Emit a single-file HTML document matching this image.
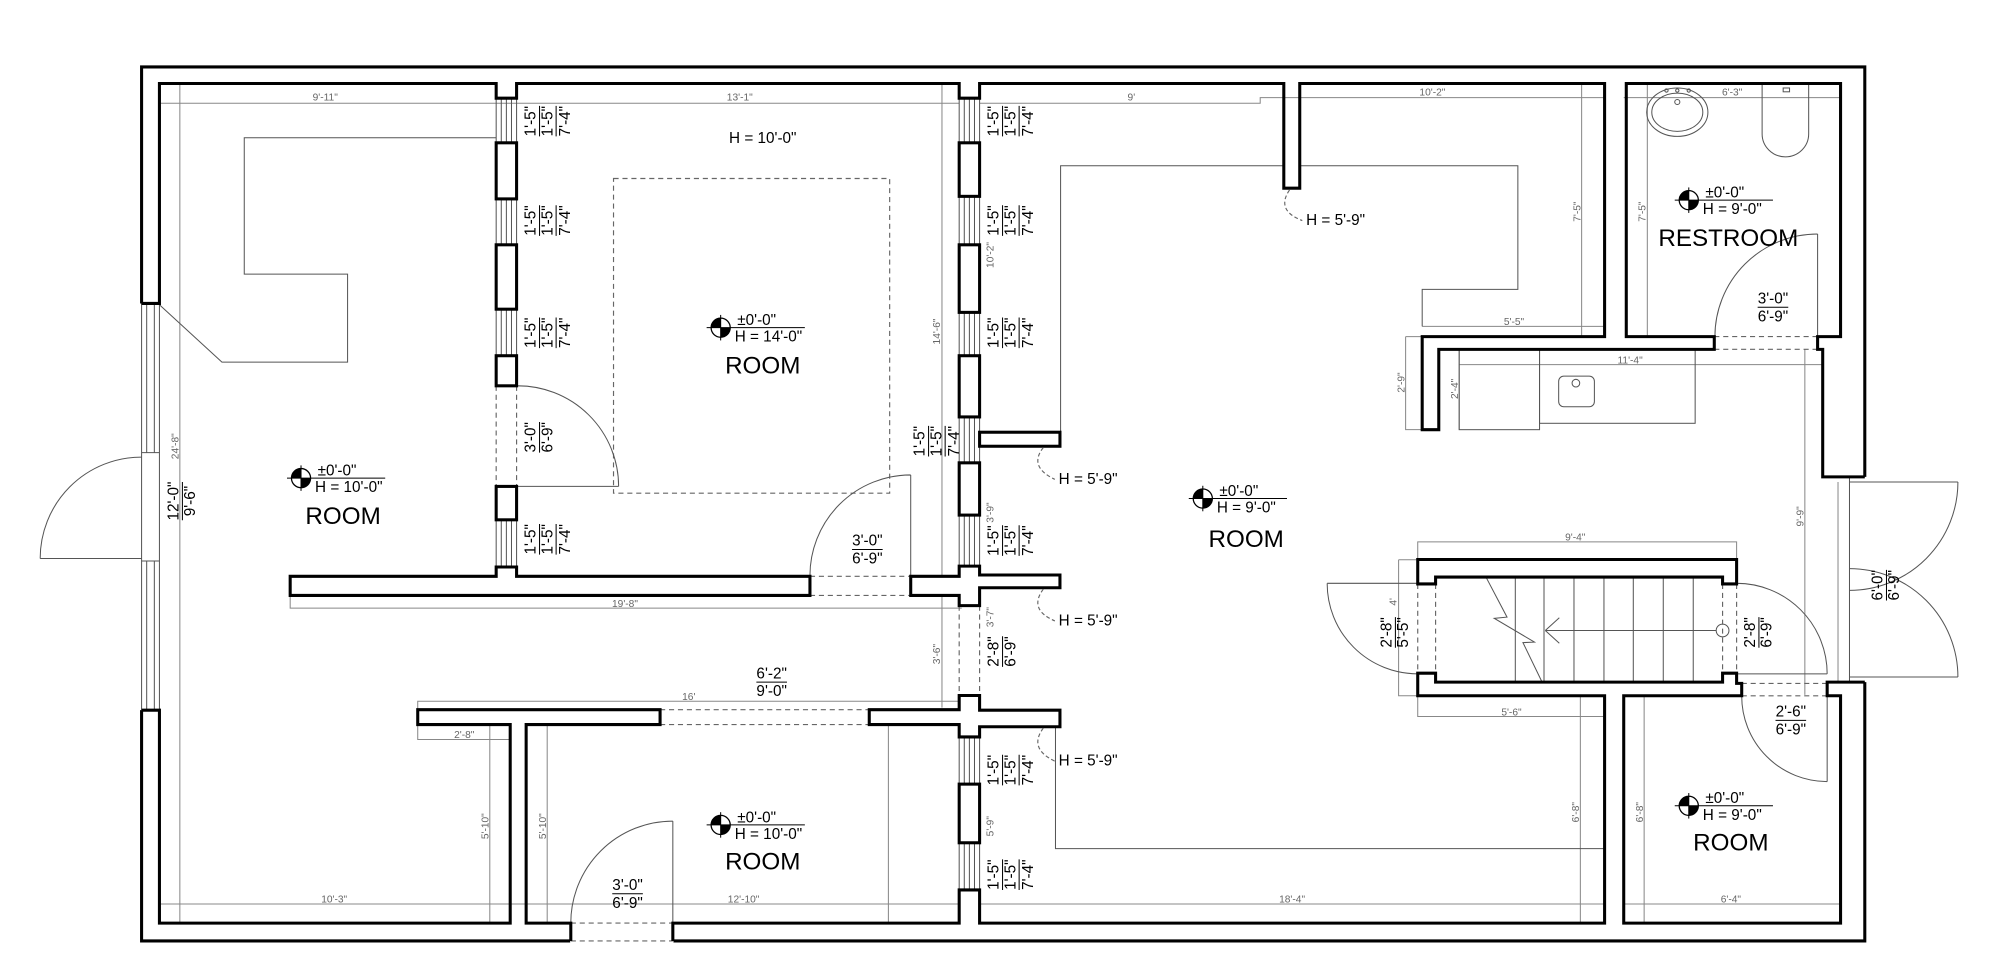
<!DOCTYPE html>
<html><head><meta charset="utf-8"><style>
html,body{margin:0;padding:0;background:#fff;}
svg{display:block;}
text{font-family:"Liberation Sans",Arial,sans-serif;}
.w{fill:none;stroke:#000;stroke-width:2.4;stroke-linejoin:miter;}
.wr{fill:#fff;stroke:#000;stroke-width:2.4;}
.t{fill:none;stroke:#555;stroke-width:0.8;}
.d{fill:none;stroke:#888;stroke-width:0.8;}
.ds{fill:none;stroke:#666;stroke-width:0.9;stroke-dasharray:4 3;}
.g{fill:#666;font-size:8px;}
.l{fill:#000;font-size:12px;}
.r{fill:#000;font-size:19px;}
</style></head><body>
<svg width="2000" height="969" viewBox="0 0 1568 760" preserveAspectRatio="none" xmlns="http://www.w3.org/2000/svg">
<defs>
<g id="mk">
<circle cx="0" cy="0" r="7.5" fill="#fff" stroke="#000" stroke-width="1"/>
<path d="M0,0 L0,-7.5 A7.5,7.5 0 0 0 -7.5,0 Z" fill="#000"/>
<path d="M0,0 L0,7.5 A7.5,7.5 0 0 0 7.5,0 Z" fill="#000"/>
<line x1="-11" y1="0" x2="66" y2="0" stroke="#000" stroke-width="0.8"/>
<line x1="0" y1="-10" x2="0" y2="10" stroke="#000" stroke-width="0.8"/>
</g>
</defs>
<rect width="1568" height="760" fill="#fff"/>

<!-- dimension lines -->
<g class="d">
<path d="M125,81 H752 M768,81 H988 V76.6 H1258 M1273,76.6 H1443"/>
<path d="M141,66 V724"/>
<path d="M738.5,66 V555"/>
<path d="M227.5,467 V477 H754"/>
<path d="M327.5,556 V550 H752"/>
<path d="M327.5,568 V580 H400"/>
<path d="M384,568 V724 M429,568 V724 M696.5,568 V724"/>
<path d="M125,709 H752 M768,709 H1258 M1273,709 H1443"/>
<path d="M1239,545 V724 M1289,545 V724"/>
<path d="M1111.5,545 V562 H1258"/>
<path d="M1111.5,439 V425 H1361.5 V439"/>
<path d="M1096.5,439 H1111 M1096.5,439 V545.7 H1111"/>
<path d="M1415,274 V545"/>
<path d="M1144,286 H1429 M1144,274 V337 M1102,264 H1115 M1102,264 V337 H1115"/>
<path d="M1240,66 V264 M1291.5,66 V264 M1115,256 H1258"/>
<path d="M1441,378 V535"/>
</g>

<!-- furniture / thin lines -->
<g class="t">
<polyline points="389,108 191.5,108 191.5,215 272.5,215 272.5,284 174,284 125,239"/>
<polyline points="1006.5,130 831.5,130 831.5,339"/>
<polyline points="1019,130 1190,130 1190,227 1115,227 1115,256"/>
<polyline points="827.5,570 827.5,665.6 1258,665.6"/>
<rect x="1207" y="274" width="122" height="58"/>
<rect x="1144" y="274" width="63" height="63"/>
<rect x="1222" y="295" width="28" height="24" rx="4"/>
<circle cx="1235.5" cy="300.5" r="3"/>
<ellipse cx="1315" cy="88" rx="24" ry="19"/>
<ellipse cx="1315" cy="88" rx="20" ry="15"/>
<circle cx="1315" cy="80" r="2"/>
<circle cx="1306.5" cy="71" r="1.3"/><circle cx="1315" cy="71" r="1.3"/><circle cx="1324" cy="71" r="1.3"/>
<path d="M1381.5,66 V105 A18.25,18 0 0 0 1418,105 V66"/>
<rect x="1398" y="69" width="5" height="3"/>
</g>
<rect x="481" y="140" width="216.5" height="246.8" class="ds"/>

<!-- stair -->
<g class="t">
<path d="M1188,452.6 V535 M1210.5,452.6 V535 M1234,452.6 V535 M1257.5,452.6 V535 M1280.5,452.6 V535 M1304,452.6 V535 M1327.5,452.6 V535"/>
<polyline points="1165,452.6 1181.5,484 1171.5,485 1203,503.6 1194,504 1209,535"/>
<path d="M1345.5,494.5 H1211.5 M1211.5,494.5 L1222.5,484.5 M1211.5,494.5 L1222.5,504.5"/>
<circle cx="1350.5" cy="494.5" r="5"/>
</g>

<!-- doors: leaves & arcs -->
<g class="t">
<path d="M31.5,438 H111 M31.5,438 A79.5,79.5 0 0 1 111,358.5"/>
<path d="M485,381.5 H405 M485,381.5 A79,79 0 0 0 405,302.6"/>
<path d="M714,452 V372.5 M714,372.5 A79,79 0 0 0 635,452"/>
<path d="M527.5,724 V644 M527.5,644 A80,80 0 0 0 447.5,724"/>
<path d="M1425,264 V183.5 M1425,183.5 A80.5,80.5 0 0 0 1344.5,264"/>
<path d="M1040.5,457.5 H1111.5 M1040.5,457.5 A71,71 0 0 0 1111.5,528.5"/>
<path d="M1361.5,528.5 H1432.5 M1361.5,457.5 A71,71 0 0 1 1432.5,528.5"/>
<path d="M1432.5,545.7 V613 M1365.5,545.7 A67,67 0 0 0 1432.5,613"/>
<path d="M1450,378 H1535 M1535,378 A85,85 0 0 1 1450,463"/>
<path d="M1450,531 H1535 M1535,531 A85,85 0 0 0 1450,446"/>
<path d="M1450,374 V535"/>
</g>

<!-- dashed openings -->
<g class="ds">
<path d="M389,302.6 V381.5 M405,302.6 V381.5"/>
<path d="M635,452 H714 M635,467 H714"/>
<path d="M752,475 V545.5 M768,475 V545.5"/>
<path d="M517.5,556.6 H681.5 M517.5,568.3 H681.5"/>
<path d="M447.5,724 H527.5 M447.5,738 H527.5"/>
<path d="M1111.5,458 V528 M1125.5,458 V528 M1350.5,458 V528 M1361.5,458 V528"/>
<path d="M1344,264 H1425 M1344,274 H1425"/>
<path d="M1365.5,536 H1432.5 M1365.5,545.7 H1432.5"/>
</g>

<!-- left wall windows -->
<g class="t">
<path d="M115,238 V355 M121,238 V355 M115,440 V557 M121,440 V557 M111,355 H125 M111,440 H125 M111,238 V557 M125,238 V557"/>
</g>

<!-- partition windows -->
<g class="t">
<path d="M389,77 V112 M393,77 V112 M397,77 V112 M401,77 V112 M405,77 V112"/>
<path d="M389,156 V192 M393,156 V192 M397,156 V192 M401,156 V192 M405,156 V192"/>
<path d="M389,242.5 V279 M393,242.5 V279 M397,242.5 V279 M401,242.5 V279 M405,242.5 V279"/>
<path d="M389,407.7 V444.7 M393,407.7 V444.7 M397,407.7 V444.7 M401,407.7 V444.7 M405,407.7 V444.7"/>
<path d="M752,77 V112 M756,77 V112 M760,77 V112 M764,77 V112 M768,77 V112"/>
<path d="M752,154 V192 M756,154 V192 M760,154 V192 M764,154 V192 M768,154 V192"/>
<path d="M752,245 V279 M756,245 V279 M760,245 V279 M764,245 V279 M768,245 V279"/>
<path d="M752,327 V363 M756,327 V363 M760,327 V363 M764,327 V363 M768,327 V363"/>
<path d="M752,404 V444 M756,404 V444 M760,404 V444 M764,404 V444 M768,404 V444"/>
<path d="M752,578 V615 M756,578 V615 M760,578 V615 M764,578 V615 M768,578 V615"/>
<path d="M752,661 V698 M756,661 V698 M760,661 V698 M764,661 V698 M768,661 V698"/>
</g>

<!-- walls -->
<path class="w" d="M111,238 V52.5 H1462 V374 M1462,535 V738 H528 M447,738 H111 V557"/>
<path class="w" d="M111,238 H125 V65.5 H389 V77 H405 V65.5 H752 V77 H768 V65.5 H1006.5 V147.6 H1019 V65.5 H1258 V264 H1115 V337 H1128 V274 H1344 V264 H1275 V65.5 H1443 V264 H1425 V274 H1429 V374 H1462"/>
<path class="w" d="M111,557 H125 V724 H400 V568.3 H327.5 V556.6 H517.5 V568.3 H412.5 V724 H447.5 V738"/>
<path class="w" d="M527.5,738 V724 H752 V698 H768 V724 H1258 V545.7 H1111.5 V528 H1125.5 V535 H1350.5 V528 H1361.5 V536 H1365.5 V545.7 H1273 V724 H1443 V545.7 H1432.5 V535 H1462"/>
<path class="w" d="M1111.5,458 V438.8 H1361.5 V458 H1350.5 V452.6 H1125.5 V458 Z"/>
<path class="w" d="M227.5,452 H389 V444.7 H405 V452 H635 V467 H227.5 Z"/>
<g class="wr">
<rect x="389" y="112" width="16" height="44"/>
<rect x="389" y="192" width="16" height="50.5"/>
<rect x="389" y="279" width="16" height="23.6"/>
<rect x="389" y="381.5" width="16" height="26.2"/>
<rect x="752" y="112" width="16" height="42"/>
<rect x="752" y="192" width="16" height="53"/>
<rect x="752" y="279" width="16" height="48"/>
<rect x="752" y="363" width="16" height="41"/>
<rect x="752" y="615" width="16" height="46"/>
<rect x="768" y="339" width="63" height="11"/>
<polygon points="752,444 768,444 768,451 831,451 831,461 768,461 768,475 752,475 752,467 714,467 714,452 752,452"/>
<polygon points="752,545.5 768,545.5 768,557 831,557 831,570 768,570 768,578 752,578 752,568.3 681.5,568.3 681.5,556.6 752,556.6"/>
</g>

<!-- leaders -->
<g class="ds" style="stroke-dasharray:3 2">
<path d="M1011,149 Q1000,165 1021,173"/>
<path d="M818,351 Q806,366 827,376"/>
<path d="M818,462 Q806,478 827,487"/>
<path d="M818,571 Q806,587 827,597"/>
</g>

<!-- markers -->
<use href="#mk" x="236" y="375"/>
<use href="#mk" x="565" y="257"/>
<use href="#mk" x="565" y="647"/>
<use href="#mk" x="943" y="391"/>
<use href="#mk" x="1324" y="157"/>
<use href="#mk" x="1324" y="632"/>
<g class="l">
<text x="249" y="373">±0'-0"</text><text x="247" y="386">H = 10'-0"</text>
<text x="578" y="255">±0'-0"</text><text x="576" y="268">H = 14'-0"</text>
<text x="578" y="645">±0'-0"</text><text x="576" y="658">H = 10'-0"</text>
<text x="956" y="389">±0'-0"</text><text x="954" y="402">H = 9'-0"</text>
<text x="1337" y="155">±0'-0"</text><text x="1335" y="168">H = 9'-0"</text>
<text x="1337" y="630">±0'-0"</text><text x="1335" y="643">H = 9'-0"</text>
<text x="598" y="112" text-anchor="middle">H = 10'-0"</text>
<text x="1024" y="176.5">H = 5'-9"</text>
<text x="830" y="379.5">H = 5'-9"</text>
<text x="830" y="490.5">H = 5'-9"</text>
<text x="830" y="600.5">H = 5'-9"</text>
</g>
<g class="r" text-anchor="middle">
<text x="269" y="411">ROOM</text>
<text x="598" y="293">ROOM</text>
<text x="598" y="682">ROOM</text>
<text x="977" y="429">ROOM</text>
<text x="1355" y="193">RESTROOM</text>
<text x="1357" y="667">ROOM</text>
</g>

<!-- horizontal fraction labels -->
<g class="l" text-anchor="middle">
<text x="680" y="428">3'-0"</text><text x="680" y="442">6'-9"</text>
<text x="1390" y="238">3'-0"</text><text x="1390" y="252">6'-9"</text>
<text x="605" y="532">6'-2"</text><text x="605" y="546">9'-0"</text>
<text x="492" y="698">3'-0"</text><text x="492" y="712">6'-9"</text>
<text x="1404" y="562">2'-6"</text><text x="1404" y="576">6'-9"</text>
</g>
<g stroke="#000" stroke-width="0.8">
<line x1="668" y1="431" x2="692" y2="431"/>
<line x1="1378" y1="241" x2="1402" y2="241"/>
<line x1="593" y1="535" x2="617" y2="535"/>
<line x1="480" y1="701" x2="504" y2="701"/>
<line x1="1392" y1="565" x2="1416" y2="565"/>
</g>

<!-- rotated window labels (3 lines) -->
<g class="l" text-anchor="middle">
<g transform="translate(420,95) rotate(-90)"><text>1'-5"</text><text y="13">1'-5"</text><text y="27">7'-4"</text></g>
<g transform="translate(420,173) rotate(-90)"><text>1'-5"</text><text y="13">1'-5"</text><text y="27">7'-4"</text></g>
<g transform="translate(420,261) rotate(-90)"><text>1'-5"</text><text y="13">1'-5"</text><text y="27">7'-4"</text></g>
<g transform="translate(420,423) rotate(-90)"><text>1'-5"</text><text y="13">1'-5"</text><text y="27">7'-4"</text></g>
<g transform="translate(783,95) rotate(-90)"><text>1'-5"</text><text y="13">1'-5"</text><text y="27">7'-4"</text></g>
<g transform="translate(783,173) rotate(-90)"><text>1'-5"</text><text y="13">1'-5"</text><text y="27">7'-4"</text></g>
<g transform="translate(783,261) rotate(-90)"><text>1'-5"</text><text y="13">1'-5"</text><text y="27">7'-4"</text></g>
<g transform="translate(725,346) rotate(-90)"><text>1'-5"</text><text y="13">1'-5"</text><text y="27">7'-4"</text></g>
<g transform="translate(783,424) rotate(-90)"><text>1'-5"</text><text y="13">1'-5"</text><text y="27">7'-4"</text></g>
<g transform="translate(783,604) rotate(-90)"><text>1'-5"</text><text y="13">1'-5"</text><text y="27">7'-4"</text></g>
<g transform="translate(783,686) rotate(-90)"><text>1'-5"</text><text y="13">1'-5"</text><text y="27">7'-4"</text></g>
<!-- 2-line -->
<g transform="translate(420,343) rotate(-90)"><text>3'-0"</text><text y="13">6'-9"</text></g>
<g transform="translate(140,393) rotate(-90)"><text>12'-0"</text><text y="13">9'-6"</text></g>
<g transform="translate(783,511) rotate(-90)"><text>2'-8"</text><text y="13">6'-9"</text></g>
<g transform="translate(1091,496) rotate(-90)"><text>2'-8"</text><text y="13">5'-5"</text></g>
<g transform="translate(1376,496) rotate(-90)"><text>2'-8"</text><text y="13">6'-9"</text></g>
<g transform="translate(1476,459) rotate(-90)"><text>6'-0"</text><text y="13">6'-9"</text></g>
</g>
<g stroke="#000" stroke-width="0.8">
<path d="M423,83 V107 M436,83 V107 M423,161 V185 M436,161 V185 M423,249 V273 M436,249 V273 M423,411 V435 M436,411 V435"/>
<path d="M786,83 V107 M799,83 V107 M786,161 V185 M799,161 V185 M786,249 V273 M799,249 V273 M786,412 V436 M799,412 V436 M786,592 V616 M799,592 V616 M786,674 V698 M799,674 V698"/>
<path d="M728,334 V358 M741,334 V358"/>
<path d="M423,331 V355 M143,378 V408 M786,499 V523 M1094,484 V508 M1379,484 V508 M1479,447 V471"/>
</g>

<!-- gray dimension texts -->
<g class="g" text-anchor="middle">
<text x="255" y="79">9'-11"</text>
<text x="580" y="79">13'-1"</text>
<text x="887" y="79">9'</text>
<text x="1123" y="75">10'-2"</text>
<text x="1358" y="75">6'-3"</text>
<text x="490" y="476">19'-8"</text>
<text x="540" y="549">16'</text>
<text x="364" y="579">2'-8"</text>
<text x="262" y="708">10'-3"</text>
<text x="583" y="708">12'-10"</text>
<text x="1013" y="708">18'-4"</text>
<text x="1357" y="708">6'-4"</text>
<text x="1185" y="561">5'-6"</text>
<text x="1235" y="424">9'-4"</text>
<text x="1187" y="255">5'-5"</text>
<text x="1278" y="285">11'-4"</text>
<g transform="translate(383,648) rotate(-90)"><text>5'-10"</text></g>
<g transform="translate(428,648) rotate(-90)"><text>5'-10"</text></g>
<g transform="translate(1238,637) rotate(-90)"><text>6'-8"</text></g>
<g transform="translate(1288,637) rotate(-90)"><text>6'-8"</text></g>
<g transform="translate(1095,472) rotate(-90)"><text>4'</text></g>
<g transform="translate(779,484) rotate(-90)"><text>3'-7"</text></g>
<g transform="translate(737,513) rotate(-90)"><text>3'-6"</text></g>
<g transform="translate(779,402) rotate(-90)"><text>3'-9"</text></g>
<g transform="translate(779,648) rotate(-90)"><text>5'-9"</text></g>
<g transform="translate(737,260) rotate(-90)"><text>14'-6"</text></g>
<g transform="translate(779,200) rotate(-90)"><text>10'-2"</text></g>
<g transform="translate(140,350) rotate(-90)"><text>24'-8"</text></g>
<g transform="translate(1239,166) rotate(-90)"><text>7'-5"</text></g>
<g transform="translate(1290,166) rotate(-90)"><text>7'-5"</text></g>
<g transform="translate(1101,300) rotate(-90)"><text>2'-9"</text></g>
<g transform="translate(1143,305) rotate(-90)"><text>2'-4"</text></g>
<g transform="translate(1414,405) rotate(-90)"><text>9'-9"</text></g>
</g>
</svg>
</body></html>
